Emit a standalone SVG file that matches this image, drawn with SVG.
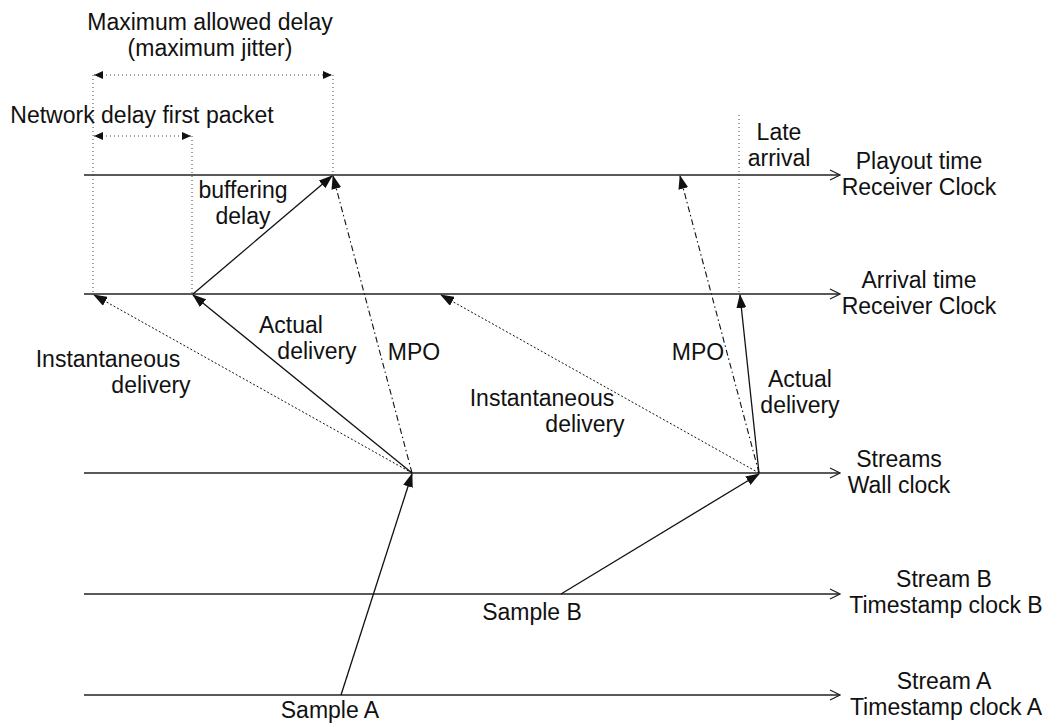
<svg xmlns="http://www.w3.org/2000/svg" width="1046" height="726" viewBox="0 0 1046 726">
  <style>
    text { font-family: "Liberation Sans", Arial, sans-serif; font-size: 23px; fill: #111; text-anchor: middle; }
    .axis { stroke: #222; stroke-width: 1.4; fill: none; marker-end: url(#open); }
    .solid { stroke: #111; stroke-width: 1.3; fill: none; marker-end: url(#tri); }
    .dotted { stroke: #111; stroke-width: 1; stroke-dasharray: 2 2; fill: none; marker-end: url(#tri); }
    .dashdot { stroke: #111; stroke-width: 1.1; stroke-dasharray: 6 3 1.5 3; fill: none; marker-end: url(#tri); }
    .guide { stroke: #444; stroke-width: 1; stroke-dasharray: 1 3; fill: none; }
    .dim { stroke: #444; stroke-width: 1; stroke-dasharray: 1 3; fill: none; marker-start: url(#dimS); marker-end: url(#dimE); }
  </style>
  <defs>
    <marker id="open" viewBox="0 0 12 12" refX="11" refY="6" markerWidth="12" markerHeight="12" markerUnits="userSpaceOnUse" orient="auto">
      <path d="M1,1 L11,6 L1,11" fill="none" stroke="#222" stroke-width="1.2"/>
    </marker>
    <marker id="tri" viewBox="0 0 14 10" refX="13" refY="5" markerWidth="14" markerHeight="10" markerUnits="userSpaceOnUse" orient="auto">
      <path d="M0,0 L14,5 L0,10 z" fill="#111"/>
    </marker>
    <marker id="dimE" viewBox="0 0 9 8" refX="9" refY="4" markerWidth="9" markerHeight="8" markerUnits="userSpaceOnUse" orient="auto">
      <path d="M0,0 L9,4 L0,8 z" fill="#111"/>
    </marker>
    <marker id="dimS" viewBox="0 0 9 8" refX="0" refY="4" markerWidth="9" markerHeight="8" markerUnits="userSpaceOnUse" orient="auto">
      <path d="M9,0 L0,4 L9,8 z" fill="#111"/>
    </marker>
  </defs>

  <!-- time axes -->
  <g id="axis-playout">
    <line class="axis" x1="84" y1="175" x2="840" y2="175"/>
    <text x="919" y="169">Playout time</text>
    <text x="919" y="195">Receiver Clock</text>
  </g>
  <g id="axis-arrival">
    <line class="axis" x1="84" y1="294" x2="840" y2="294"/>
    <text x="919" y="288">Arrival time</text>
    <text x="919" y="314">Receiver Clock</text>
  </g>
  <g id="axis-wall">
    <line class="axis" x1="84" y1="473" x2="840" y2="473"/>
    <text x="899" y="467">Streams</text>
    <text x="899" y="493">Wall clock</text>
  </g>
  <g id="axis-stream-b">
    <line class="axis" x1="84" y1="594" x2="840" y2="594"/>
    <text x="944" y="587">Stream B</text>
    <text x="946" y="613">Timestamp clock B</text>
  </g>
  <g id="axis-stream-a">
    <line class="axis" x1="84" y1="695" x2="840" y2="695"/>
    <text x="944" y="689">Stream A</text>
    <text x="946" y="715">Timestamp clock A</text>
  </g>

  <!-- dimension guides -->
  <g id="dimensions">
    <line class="guide" x1="93" y1="75" x2="93" y2="294"/>
    <line class="guide" x1="192" y1="136" x2="192" y2="294"/>
    <line class="guide" x1="333" y1="75" x2="333" y2="175"/>
    <line class="guide" x1="739" y1="115" x2="739" y2="294"/>
    <line class="dim" x1="94" y1="75" x2="332" y2="75"/>
    <line class="dim" x1="94" y1="136" x2="191" y2="136"/>
  </g>
  <g id="label-max-delay">
    <text x="210" y="30">Maximum allowed delay</text>
    <text x="210" y="56">(maximum jitter)</text>
  </g>
  <g id="label-network-delay">
    <text x="142" y="123">Network delay first packet</text>
  </g>

  <!-- connectors -->
  <g id="connectors">
    <line class="solid" x1="341" y1="695" x2="412" y2="474"/>
    <line class="solid" x1="561" y1="594" x2="759" y2="474"/>
    <line class="solid" x1="412" y1="473" x2="193" y2="295"/>
    <line class="dotted" x1="412" y1="473" x2="94" y2="295"/>
    <line class="dashdot" x1="412" y1="473" x2="333" y2="176"/>
    <line class="solid" x1="193" y1="294" x2="332" y2="176"/>
    <line class="dotted" x1="759" y1="473" x2="441" y2="295"/>
    <line class="dashdot" x1="759" y1="473" x2="680" y2="176"/>
    <line class="solid" x1="759" y1="473" x2="740" y2="295"/>
  </g>

  <!-- connector labels -->
  <g id="label-buffering">
    <text x="243" y="198">buffering</text>
    <text x="243" y="224">delay</text>
  </g>
  <g id="label-late">
    <text x="779" y="140">Late</text>
    <text x="779" y="166">arrival</text>
  </g>
  <g id="label-actual-a">
    <text x="291" y="333">Actual</text>
    <text x="317" y="359">delivery</text>
  </g>
  <g id="label-mpo-a">
    <text x="414" y="360">MPO</text>
  </g>
  <g id="label-instant-a">
    <text x="108" y="367">Instantaneous</text>
    <text x="151" y="393">delivery</text>
  </g>
  <g id="label-instant-b">
    <text x="542" y="406">Instantaneous</text>
    <text x="585" y="432">delivery</text>
  </g>
  <g id="label-mpo-b">
    <text x="698" y="360">MPO</text>
  </g>
  <g id="label-actual-b">
    <text x="800" y="387">Actual</text>
    <text x="800" y="413">delivery</text>
  </g>
  <g id="label-samples">
    <text x="330" y="718">Sample A</text>
    <text x="532" y="620">Sample B</text>
  </g>
</svg>
